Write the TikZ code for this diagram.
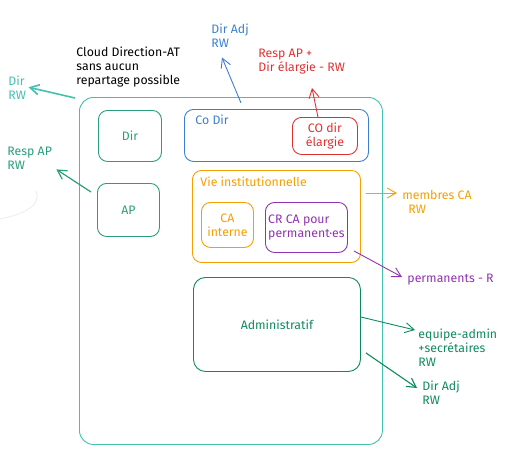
\documentclass[tikz,border=0pt]{standalone}
\usepackage{fontspec}
\setmainfont{Fira Sans}
\usetikzlibrary{arrows.meta,positioning}

\definecolor{cloudteal}{HTML}{45BFAE}
\definecolor{apgreen}{HTML}{2A9D7C}
\definecolor{admgreen}{HTML}{0E8A5F}
\definecolor{dirblue}{HTML}{3A80D2}
\definecolor{elred}{HTML}{E03131}
\definecolor{caorange}{HTML}{F59F00}
\definecolor{permpurple}{HTML}{9132B0}

\begin{document}
\begin{tikzpicture}[x=1pt,y=-1pt,>={Straight Barb[length=9pt,width=10pt]},
    line width=0.9pt,font=\fontsize{12.3}{14}\selectfont,
    box node/.style={draw,rounded corners=9pt,anchor=north west,inner sep=0pt},
    text node/.style={anchor=north west,align=left,inner sep=0pt}]

  \useasboundingbox (0,0) rectangle (511,451);
  \draw[black!7] (0,219) .. controls (25,214) and (42,205) .. (36,191);

  % boxes
  \node[box node,cloudteal,rounded corners=14pt,minimum width=303pt,minimum height=347pt] (cloud) at (79,97) {};
  \node[box node,apgreen,minimum width=63pt,minimum height=51pt] (dir) at (98,110) {Dir};
  \node[box node,apgreen,minimum width=62pt,minimum height=53pt] (ap) at (97,183) {AP};
  \node[box node,dirblue,minimum width=184pt,minimum height=52pt] (codir) at (184,109) {};
  \node[box node,elred,align=center,minimum width=65pt,minimum height=37pt] (coelargie) at (292,117) {CO dir\\élargie};
  \node[box node,caorange,minimum width=168pt,minimum height=92pt] (vie) at (192,170) {};
  \node[box node,caorange,align=center,minimum width=52pt,minimum height=45pt] (cainterne) at (201,202) {CA\\interne};
  \node[box node,permpurple,align=left,minimum width=82pt,minimum height=50pt] (crca) at (265,202) {CR CA pour\\permanent·es};
  \node[box node,admgreen,rounded corners=12pt,minimum width=167pt,minimum height=94pt] (admin) at (193,277) {Administratif};

  % texts
  \node[text node,dirblue] (codirlbl) at (195,114) {Co Dir};
  \node[text node,caorange] (vielbl) at (200,176) {Vie institutionnelle};
  \node[text node] (cloudtxt) at (76,46) {Cloud Direction-AT\\sans aucun\\repartage possible};
  \node[text node,cloudteal] (dirrw) at (8,75) {Dir\\RW};
  \node[text node,apgreen] (resprw) at (7,147) {Resp AP\\RW};
  \node[text node,dirblue] (diradj) at (211,23) {Dir Adj\\RW};
  \node[text node,elred] (respap) at (258,49) {Resp AP +\\Dir élargie - RW};
  \node[text node,caorange] (membres) at (402,190) {membres CA\\\hspace{6pt}RW};
  \node[text node,permpurple] (perm) at (407,274) {permanents - R};
  \node[text node,admgreen] (equipe) at (418,328) {equipe-admin\\+secrétaires\\RW};
  \node[text node,admgreen] (diradjb) at (422,380) {Dir Adj\\RW};

  % arrows
  \draw[->,cloudteal,line width=1.6pt] ([shift={(-4,1)}]cloud.north west) -- ([xshift=2pt]dirrw.east);
  \draw[->,apgreen,line width=1.2pt] ([shift={(-6,9)}]ap.north west) -- ([shift={(4,-1)}]resprw.south east);
  \draw[->,dirblue] ([shift={(57,-6)}]codir.north west) -- ([shift={(11,10)}]diradj.south west);
  \draw[->,elred] ([xshift=-7pt]coelargie.north) -- ([shift={(54,13)}]respap.south west);
  \draw[->,caorange] ([shift={(5,23)}]vie.north east) -- ([shift={(-5,3)}]membres.north west);
  \draw[->,permpurple] ([shift={(6,-2)}]crca.south east) -- ([shift={(-5,3)}]perm.north west);
  \draw[->,admgreen] ([shift={(0,40)}]admin.north east) -- ([shift={(-3,2)}]equipe.north west);
  \draw[->,admgreen,line width=1.1pt] ([shift={(5,-19)}]admin.south east) -- ([shift={(-5,8)}]diradjb.north west);
\end{tikzpicture}
\end{document}
